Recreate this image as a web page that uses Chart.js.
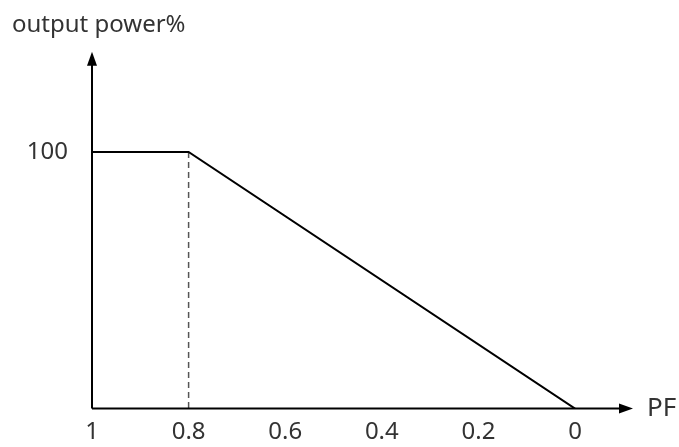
<!DOCTYPE html>
<html>
<head>
<meta charset="utf-8">
<script src="https://cdn.jsdelivr.net/npm/chart.js@4"></script>
<style>
  html, body { margin: 0; padding: 0; background: #fff; }
  #wrap { width: 679px; height: 447px; }
</style>
</head>
<body>
<div id="wrap"><canvas id="pfChart" width="679" height="447"></canvas></div>
<script>
  // derating curve: output power % vs power factor
  const pfValues = [1, 0.8, 0];
  const powerValues = [100, 100, 0];
  const kneePF = [0.8, 0.8];
  const kneePower = [100, 0];
  const xTicks = [1, 0.8, 0.6, 0.4, 0.2, 0];
  const yTicks = [100];
  const yLabel = "output power%";
  const xLabel = "PF";

  const FONT = "'Noto Sans', 'Open Sans', sans-serif";
  const TEXT = "#333";

  // axes with arrow heads, drawn after the datasets
  const arrowAxes = {
    id: "arrowAxes",
    afterDatasetsDraw(chart){
      const {ctx, chartArea: a} = chart;
      ctx.save();
      ctx.strokeStyle = "#000";
      ctx.fillStyle = "#000";
      ctx.lineWidth = 2;
      ctx.beginPath();
      ctx.moveTo(a.left, a.bottom);
      ctx.lineTo(a.left, a.top + 12);
      ctx.moveTo(a.left, a.bottom);
      ctx.lineTo(a.right - 12, a.bottom);
      ctx.stroke();
      // up arrow
      ctx.beginPath();
      ctx.moveTo(a.left, a.top);
      ctx.lineTo(a.left - 5, a.top + 14);
      ctx.lineTo(a.left + 5, a.top + 14);
      ctx.closePath();
      ctx.fill();
      // right arrow
      ctx.beginPath();
      ctx.moveTo(a.right, a.bottom);
      ctx.lineTo(a.right - 14, a.bottom - 5);
      ctx.lineTo(a.right - 14, a.bottom + 5);
      ctx.closePath();
      ctx.fill();
      // PF label
      ctx.fillStyle = TEXT;
      ctx.font = "26px " + FONT;
      ctx.textAlign = "left";
      ctx.textBaseline = "middle";
      ctx.fillText(xLabel, a.right + 14, a.bottom);
      ctx.restore();
    }
  };

  new Chart(document.getElementById("pfChart"), {
    type: "scatter",
    data: {
      datasets: [
        {
          data: pfValues.map((x, i) => ({x, y: powerValues[i]})),
          showLine: true,
          borderColor: "#000",
          borderWidth: 2,
          pointRadius: 0,
          tension: 0
        },
        {
          data: kneePF.map((x, i) => ({x, y: kneePower[i]})),
          showLine: true,
          borderColor: "#555",
          borderWidth: 1.5,
          borderDash: [6, 4],
          pointRadius: 0
        }
      ]
    },
    options: {
      responsive: false,
      animation: false,
      // negative bottom padding lets the x labels' box hang a little past the canvas edge
      layout: { padding: { left: 12, right: 46, top: 0, bottom: -13 } },
      plugins: {
        legend: { display: false },
        tooltip: { enabled: false },
        title: {
          display: true,
          text: yLabel,
          align: "start",
          color: TEXT,
          font: { family: FONT, size: 24, weight: "normal", lineHeight: 1.2 },
          padding: { top: 11, bottom: 12 }
        }
      },
      scales: {
        x: {
          type: "linear",
          reverse: true,
          min: -0.12,
          max: 1,
          grid: { display: false, drawTicks: false },
          border: { display: false },
          afterBuildTicks: (s) => { s.ticks = xTicks.map(v => ({value: v})); },
          ticks: {
            color: TEXT,
            padding: 8,
            maxRotation: 0,
            autoSkip: false,
            font: { family: FONT, size: 24, lineHeight: 1.3 },
            callback: (v) => String(v)
          }
        },
        y: {
          type: "linear",
          min: 0,
          max: 139,
          grid: { display: false, drawTicks: false },
          border: { display: false },
          afterBuildTicks: (s) => { s.ticks = yTicks.map(v => ({value: v})); },
          afterFit: (s) => { s.width = 80; },
          ticks: {
            color: TEXT,
            padding: 24,
            font: { family: FONT, size: 24 }
          }
        }
      }
    },
    plugins: [arrowAxes]
  });
</script>
</body>
</html>
